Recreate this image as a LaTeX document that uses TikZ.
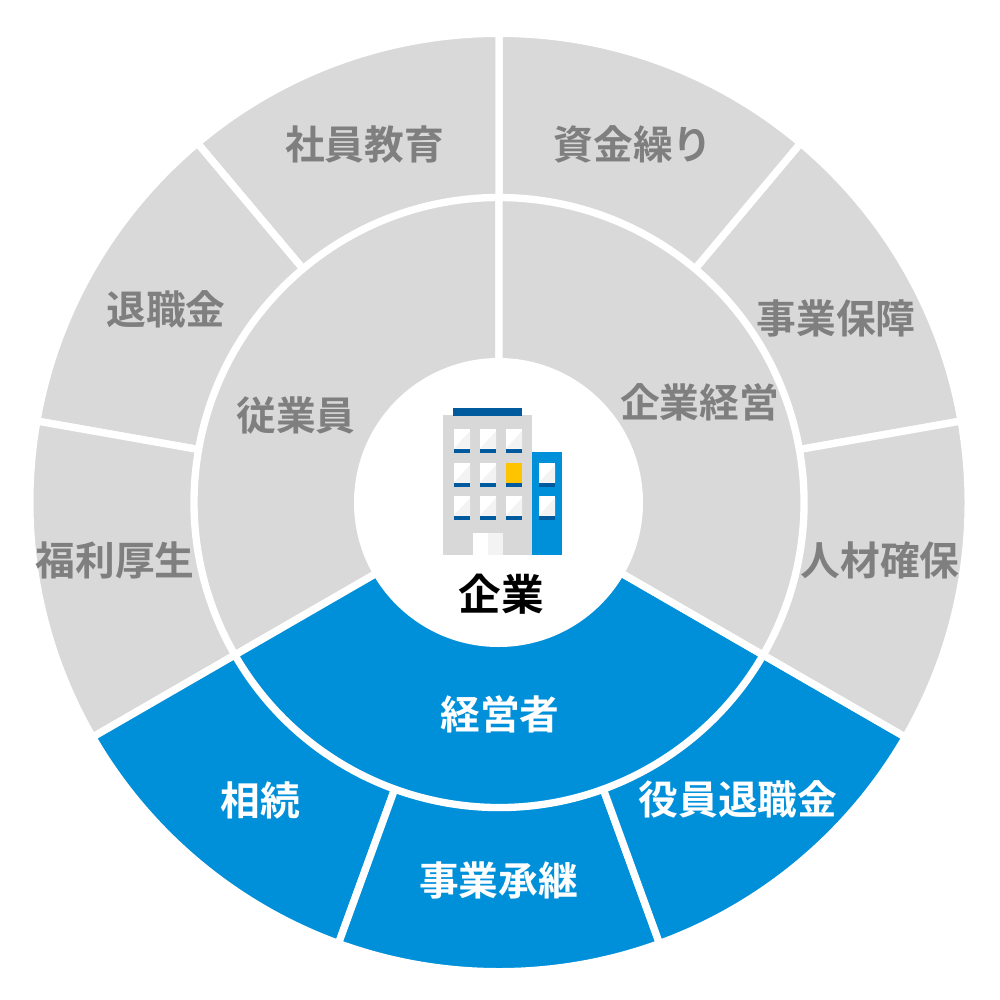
\documentclass[tikz,border=0pt]{standalone}
\usepackage{fontspec}
\newfontfamily\cjk{Noto Sans CJK JP Bold}
\definecolor{segGray}{HTML}{D9D9D9}
\definecolor{segBlue}{HTML}{0090DA}
\definecolor{txtGray}{HTML}{7F7F7F}
\definecolor{bldGray}{HTML}{D8D8D8}
\definecolor{bldDark}{HTML}{005A9E}
\definecolor{winGray}{HTML}{F3F3F3}
\definecolor{winYel}{HTML}{FFC400}
\tikzset{
  gt/.style={font=\cjk\fontsize{29.8pt}{30pt}\selectfont,text=txtGray,inner sep=0pt},
  wt/.style={gt,text=white},
  kt/.style={gt,text=black,font=\cjk\fontsize{32pt}{33pt}\selectfont},
  ringsec/.style={line width=5.5pt,draw=white,line join=miter}
}
\newcommand{\win}[2]{%
  \fill[white] (#1,-#2) rectangle ++(16,-19.5);
  \fill[winGray] (#1+16,-#2-2) -- ++(0,-17.5) -- ++(-16,0) -- cycle;
  \fill[bldDark] (#1,-#2-19.5) rectangle ++(16,-4);}
\begin{document}
\begin{tikzpicture}[x=0.75pt,y=0.75pt]
\useasboundingbox (0,-1000) rectangle (1000,0);
\fill[white] (0,-1000) rectangle (1000,0);
\begin{scope}[shift={(499,-502.5)}]
  % outer ring
  \foreach \a/\c in {10/segGray,50/segGray,90/segGray,130/segGray,170/segGray,210/segBlue,250/segBlue,290/segBlue,330/segGray}{
    \pgfmathsetmacro{\b}{\a+40}
    \filldraw[ringsec,fill=\c] (0,0) -- (\a:470) arc[start angle=\a,end angle=\b,radius=470] -- cycle;
  }
  % mid ring
  \foreach \a/\b/\c in {90/210/segGray,210/330/segBlue,330/450/segGray}{
    \filldraw[ringsec,fill=\c] (0,0) -- (\a:305) arc[start angle=\a,end angle=\b,radius=305] -- cycle;
  }
  \fill[white] (-0.5,0) circle[radius=144.5];
  \draw[white,line width=15pt] (0,0) circle[radius=475.5];
\end{scope}
% building
\fill[bldGray] (443,-415) rectangle (532,-555);
\fill[bldDark] (453,-408) rectangle (522,-415.5);
\fill[segBlue] (532,-452) rectangle (562,-555);
\foreach \x in {454,480,506}{\foreach \y in {429,463,496}{\win{\x}{\y}}}
\fill[winYel] (506,-463) rectangle ++(16,-19.5);
\foreach \y in {463,496}{
  \fill[white] (539,-\y) rectangle ++(16,-19.5);
  \fill[winGray] (555,-\y-2) -- ++(0,-17.5) -- ++(-16,0) -- cycle;
  \fill[bldDark] (539,-\y-19.5) rectangle ++(16,-4);}
\fill[white] (473,-533) rectangle (488,-555);
\fill[winGray] (488,-533) rectangle (503,-555);
% labels
\node[gt] (l1) at (364.5,-144.5) {社員教育};
\node[gt] (l2) at (633,-144.5) {資金繰り};
\node[gt] (l3) at (166,-309.5) {退職金};
\node[gt] (l4) at (836,-318.5) {事業保障};
\node[gt] (l5) at (296,-415.5) {従業員};
\node[gt] (l6) at (699.5,-402.5) {企業経営};
\node[gt] (l7) at (115,-560.5) {福利厚生};
\node[gt] (l8) at (880,-560.5) {人材確保};
\node[kt] (l9) at (501,-594) {企業};
\node[wt] (l10) at (500,-714) {経営者};
\node[wt] (l11) at (260,-800.5) {相続};
\node[wt] (l12) at (738,-799.5) {役員退職金};
\node[wt] (l13) at (498.5,-880) {事業承継};
\end{tikzpicture}
\end{document}
